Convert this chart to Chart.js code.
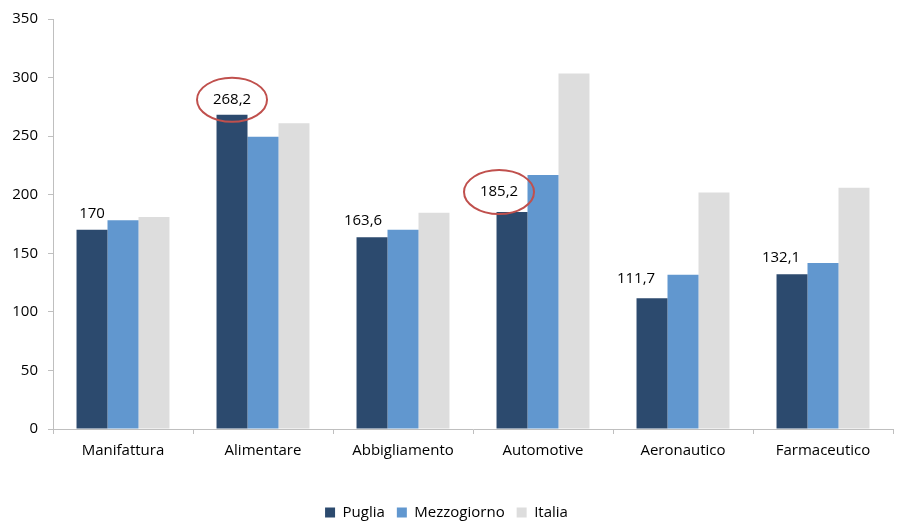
<!DOCTYPE html>
<html>
<head>
<meta charset="utf-8">
<script src="https://cdn.jsdelivr.net/npm/chart.js@4"></script>
<style>
  html, body { margin: 0; padding: 0; background: #fff; }
  #wrap { position: relative; width: 897px; height: 523px; }
</style>
</head>
<body>
<div id="wrap"><canvas id="chart"></canvas></div>
<script>
// dati
const categories = ["Manifattura", "Alimentare", "Abbigliamento", "Automotive", "Aeronautico", "Farmaceutico"];
const puglia = [170, 268.2, 163.6, 185.2, 111.7, 132.1];
const mezzogiorno = [178.2, 249.4, 170.1, 216.9, 131.7, 141.7];
const italia = [181, 261, 184.7, 303.5, 201.8, 206];
const yTicks = [0, 50, 100, 150, 200, 250, 300, 350];
const highlighted = [1, 3]; // etichette cerchiate in rosso

const FONT = "'Open Sans', 'Liberation Sans', sans-serif";

const fmt = (v) => String(v).replace(".", ",");

// etichette della serie Puglia (spostate a mano come nell'originale) + ellissi
const labelPlugin = {
  id: "pugliaLabels",
  afterDatasetsDraw(chart, args, opts) {
    const { ctx } = chart;
    const meta = chart.getDatasetMeta(0);
    ctx.save();
    ctx.font = "15px " + FONT;
    ctx.fillStyle = "#000";
    ctx.textAlign = "center";
    ctx.textBaseline = "middle";
    meta.data.forEach((bar, i) => {
      const x = bar.x + opts.shiftX[i];
      const y = bar.y - opts.shiftY[i];
      ctx.fillText(fmt(puglia[i]), x, y);
      if (highlighted.includes(i)) {
        ctx.beginPath();
        ctx.strokeStyle = "#C0504D";
        ctx.lineWidth = 2;
        ctx.ellipse(x, y, 35, 22, 0, 0, Math.PI * 2);
        ctx.stroke();
      }
    });
    ctx.restore();
  },
};

new Chart(document.getElementById("chart"), {
  type: "bar",
  data: {
    labels: categories,
    datasets: [
      { label: "Puglia", data: puglia, backgroundColor: "#2C4A6E" },
      { label: "Mezzogiorno", data: mezzogiorno, backgroundColor: "#6197CF" },
      { label: "Italia", data: italia, backgroundColor: "#DDDDDD" },
    ],
  },
  options: {
    responsive: true,
    maintainAspectRatio: false,
    animation: false,
    datasets: {
      bar: { categoryPercentage: 0.664, barPercentage: 1 },
    },
    layout: { padding: { top: 10, right: 4, left: 0, bottom: -7 } },
    plugins: {
      legend: {
        position: "bottom",
        labels: {
          font: { family: FONT, size: 15 },
          color: "#000",
          boxWidth: 10,
          boxHeight: 10,
          padding: 12,
        },
      },
      tooltip: { enabled: false },
      pugliaLabels: {
        shiftX: [0, 0, -9, -13, -16, -11],
        shiftY: [16, 15, 17, 20, 19, 17],
      },
    },
    scales: {
      x: {
        grid: {
          drawOnChartArea: false,
          drawTicks: true,
          tickLength: 5,
          color: "#BFBFBF",
          offset: true,
        },
        border: { color: "#BFBFBF", width: 1 },
        ticks: {
          font: { family: FONT, size: 15 },
          color: "#000",
          padding: 8,
          maxRotation: 0,
        },
        afterFit(scale) { scale.height = 64; },
      },
      y: {
        min: 0,
        max: 350,
        afterBuildTicks(scale) { scale.ticks = yTicks.map((v) => ({ value: v })); },
        grid: {
          drawOnChartArea: false,
          drawTicks: true,
          tickLength: 5,
          color: "#BFBFBF",
        },
        border: { color: "#BFBFBF", width: 1 },
        ticks: {
          font: { family: FONT, size: 15 },
          color: "#000",
          padding: 10,
        },
        afterFit(scale) { scale.width = 53; },
      },
    },
  },
  plugins: [labelPlugin],
});
</script>
</body>
</html>
